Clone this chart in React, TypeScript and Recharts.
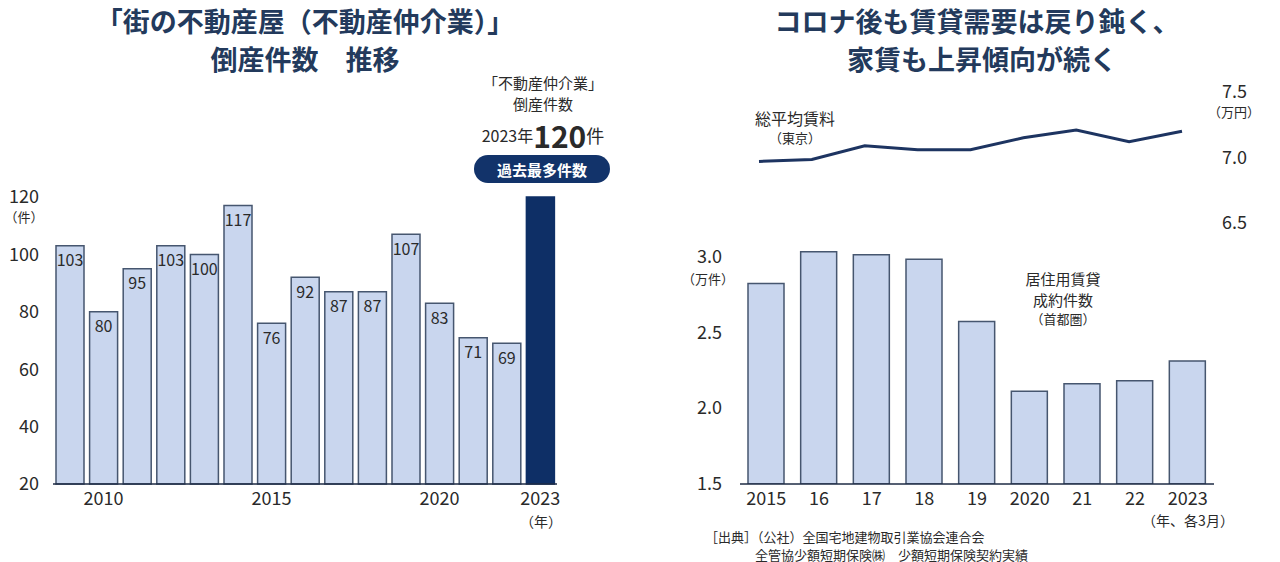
import React from 'react';
import { BarChart, Bar, XAxis, YAxis, Cell, LabelList, LineChart, Line } from 'recharts';

// left: 不動産仲介業の倒産件数
const years = ['2009', '2010', '2011', '2012', '2013', '2014', '2015', '2016', '2017', '2018', '2019', '2020', '2021', '2022', '2023'];
const bankruptcies = [103, 80, 95, 103, 100, 117, 76, 92, 87, 87, 107, 83, 71, 69, 120];
const shownYears = ['2010', '2015', '2020', '2023'];
const countTicks = [20, 40, 60, 80, 100, 120];

// right: 成約件数 (万件) and 総平均賃料 (万円)
const rentYears = ['2015', '16', '17', '18', '19', '2020', '21', '22', '2023'];
const contracts = [2.82, 3.03, 3.01, 2.98, 2.57, 2.11, 2.16, 2.18, 2.31];
const avgRent = [6.97, 6.985, 7.09, 7.06, 7.06, 7.15, 7.21, 7.12, 7.2];
const contractTicks = [1.5, 2.0, 2.5, 3.0];
const rentTicks = [6.5, 7.0, 7.5];

const FONT = '"Noto Sans CJK JP", "Noto Sans", sans-serif';
const NAVY = '#12336a';
const TITLE = '#233a5c';
const BAR_FILL = '#c9d6ee';
const BAR_STROKE = '#46566f';
const TEXT = '#2a2a2a';

const leftData = years.map((year, i) => ({
  year,
  value: bankruptcies[i],
  label: year === '2023' ? '' : String(bankruptcies[i]),
}));
const contractData = rentYears.map((year, i) => ({ year, value: contracts[i] }));
const rentData = rentYears.map((year, i) => ({ year, value: avgRent[i] }));

const tickStyle = { fontSize: 18, fill: TEXT, fontFamily: FONT };

export default function App() {
  return (
    <div style={{ position: 'absolute', left: 0, top: 0, width: 1280, height: 562, background: '#fff', fontFamily: FONT }}>
      <div style={{ position: 'absolute', left: 0, top: 0 }}>
        <BarChart width={640} height={562} data={leftData} margin={{ top: 197, right: 83, bottom: 48, left: 0 }} barSize={28}>
          <XAxis
            dataKey="year"
            interval={0}
            tickLine={false}
            axisLine={{ stroke: '#1e2b44', strokeWidth: 1.5 }}
            tick={tickStyle}
            tickFormatter={(v: string) => (shownYears.includes(v) ? v : '')}
          />
          <YAxis
            width={53}
            domain={[20, 120]}
            ticks={countTicks}
            axisLine={false}
            tickLine={false}
            tickMargin={8}
            tick={tickStyle}
          />
          <Bar dataKey="value" fill={BAR_FILL} stroke={BAR_STROKE} strokeWidth={1.5} isAnimationActive={false}>
            {leftData.map((d) => (
              <Cell key={d.year} fill={d.year === '2023' ? '#0e2f66' : BAR_FILL} stroke={d.year === '2023' ? '#0e2f66' : BAR_STROKE} />
            ))}
            <LabelList dataKey="label" position="insideTop" offset={9} style={{ fontSize: 16, fill: TEXT, fontFamily: FONT }} />
          </Bar>
        </BarChart>
      </div>

      <div style={{ position: 'absolute', left: 640, top: 0 }}>
        <BarChart width={640} height={562} data={contractData} margin={{ top: 241, right: 66, bottom: 48, left: 0 }} barSize={36}>
          <XAxis
            dataKey="year"
            interval={0}
            tickLine={false}
            axisLine={{ stroke: '#1e2b44', strokeWidth: 1.5 }}
            tick={tickStyle}
          />
          <YAxis
            width={100}
            domain={[1.5, 3.1]}
            ticks={contractTicks}
            allowDataOverflow
            axisLine={false}
            tickLine={false}
            tickMargin={12}
            tick={tickStyle}
            tickFormatter={(v: number) => v.toFixed(1)}
          />
          <Bar dataKey="value" fill={BAR_FILL} stroke={BAR_STROKE} strokeWidth={1.5} isAnimationActive={false} />
        </BarChart>
      </div>

      <div style={{ position: 'absolute', left: 640, top: 0 }}>
        <LineChart width={640} height={300} data={rentData} margin={{ top: 92, right: 0, bottom: 77, left: 119 }}>
          <XAxis dataKey="year" hide />
          <YAxis
            yAxisId="rent"
            orientation="right"
            width={98}
            domain={[6.5, 7.5]}
            ticks={rentTicks}
            axisLine={false}
            tickLine={false}
            tickMargin={34}
            tick={{ ...tickStyle, textAnchor: 'start' }}
            tickFormatter={(v: number) => v.toFixed(1)}
          />
          <Line yAxisId="rent" dataKey="value" stroke="#1d3461" strokeWidth={3} dot={false} isAnimationActive={false} />
        </LineChart>
      </div>

      <svg width={1280} height={562} style={{ position: 'absolute', left: 0, top: 0, pointerEvents: 'none' }} fontFamily={FONT}>
        <g fill={TITLE} fontSize={27} fontWeight={700} textAnchor="middle" dominantBaseline="central">
          <text x={305} y={20}>「街の不動産屋（不動産仲介業）」</text>
          <text x={305} y={58}>倒産件数　推移</text>
          <text x={977} y={20}>コロナ後も賃貸需要は戻り鈍く、</text>
          <text x={982} y={58}>家賃も上昇傾向が続く</text>
        </g>

        <g fill={TEXT} textAnchor="middle" dominantBaseline="central">
          <text x={543} y={82} fontSize={15}>「不動産仲介業」</text>
          <text x={543} y={103} fontSize={15}>倒産件数</text>
          <text x={543} y={135}>
            <tspan fontSize={16}>2023年</tspan>
            <tspan fontSize={30} fontWeight={700}>120</tspan>
            <tspan fontSize={18}>件</tspan>
          </text>
          <text x={24} y={216} fontSize={13}>（件）</text>
          <text x={541} y={521} fontSize={14}>（年）</text>

          <text x={795} y={118} fontSize={16}>総平均賃料</text>
          <text x={795} y={137} fontSize={13}>（東京）</text>
          <text x={1234} y={111} fontSize={13}>（万円）</text>
          <text x={708} y={278} fontSize={13}>（万件）</text>
          <text x={1063} y={278} fontSize={15}>居住用賃貸</text>
          <text x={1063} y={299} fontSize={15}>成約件数</text>
          <text x={1063} y={318} fontSize={13}>（首都圏）</text>
          <text x={1188} y={520} fontSize={14}>（年、各3月）</text>
        </g>

        <rect x={474} y={155} width={136} height={28} rx={14} fill={NAVY} />
        <text x={542} y={169} fill="#fff" fontSize={15} fontWeight={700} textAnchor="middle" dominantBaseline="central">
          過去最多件数
        </text>

        <g fill={TEXT} fontSize={13} dominantBaseline="central">
          <text x={705} y={536}>［出典］（公社）全国宅地建物取引業協会連合会</text>
          <text x={755} y={554}>全管協少額短期保険㈱　少額短期保険契約実績</text>
        </g>
      </svg>
    </div>
  );
}
